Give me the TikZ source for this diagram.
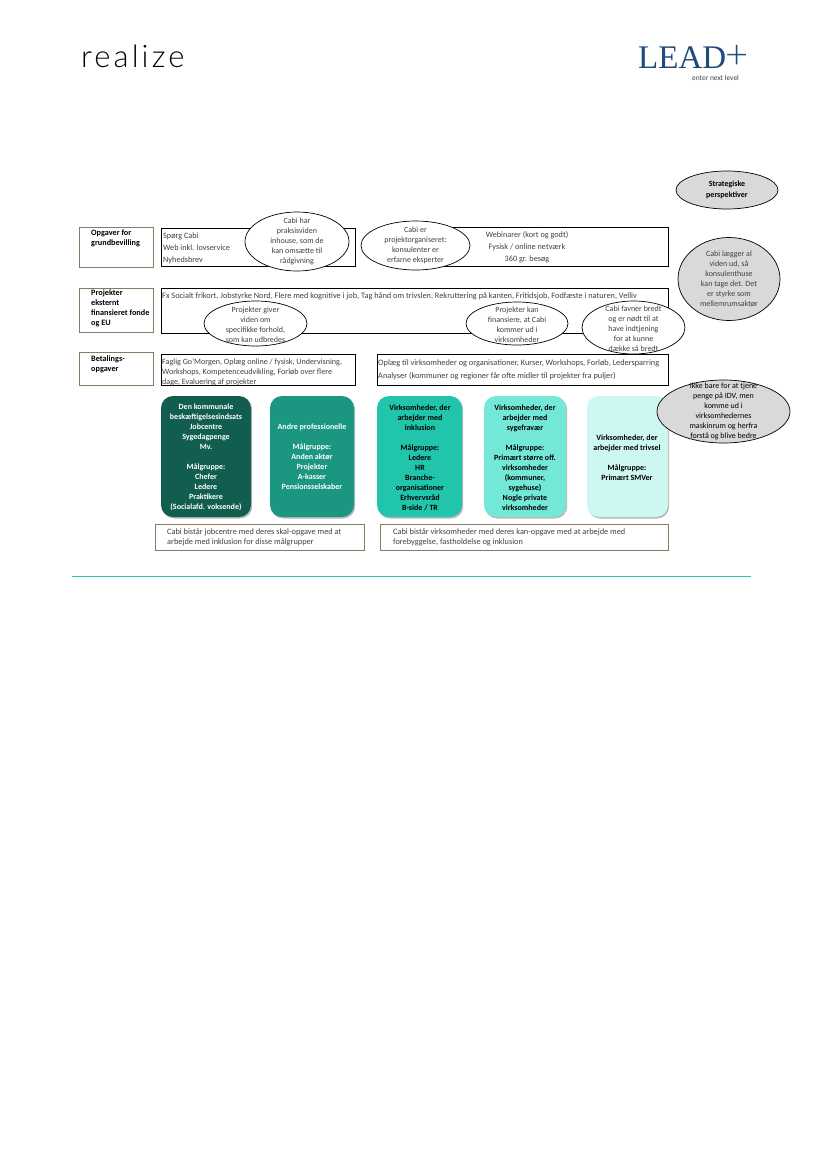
\documentclass[tikz,border=0pt]{standalone}
\usepackage{fontspec}
\setmainfont{Carlito}
\newfontfamily\logofont[LetterSpace=10]{Lato Light}
\newfontfamily\plusfont{Lato Light}
\newfontfamily\leadfont{Liberation Serif}
\usetikzlibrary{shapes.geometric,fit,shadows}
\definecolor{bodygray}{HTML}{404040}
\definecolor{tan}{HTML}{8A7A62}
\definecolor{tileA}{HTML}{115E51}
\definecolor{tileB}{HTML}{1B9681}
\definecolor{tileC}{HTML}{20C5AC}
\definecolor{tileD}{HTML}{73E8D6}
\definecolor{tileE}{HTML}{CDF7F1}
\definecolor{rulecol}{HTML}{1FC9AE}
\definecolor{leadblue}{HTML}{1F4A7D}
\tikzset{
  x=1bp,y=-1bp,
  txt/.style={inner sep=0pt,align=left,text=bodygray,font=\fontsize{8.2bp}{12bp}\selectfont},
  ctxt/.style={inner sep=0pt,align=center,text=bodygray,font=\fontsize{8bp}{10bp}\selectfont},
  lbltxt/.style={inner sep=0pt,align=left,text=black,font=\fontsize{8.2bp}{10bp}\selectfont\bfseries},
  tiletxt/.style={inner sep=0pt,align=center,font=\fontsize{8bp}{10bp}\selectfont\bfseries},
  fitbox/.style={inner sep=0pt,rectangle},
  bluebox/.style={fitbox,draw=black,line width=0.9bp,fill=white},
  labelbox/.style={fitbox,draw=tan,line width=0.9bp,fill=white},
  bub/.style 2 args={ellipse,inner sep=0pt,minimum width=#1bp,minimum height=#2bp,draw=black,line width=0.7bp,fill=white},
  graybub/.style 2 args={bub={#1}{#2},fill=black!15},
  tile/.style={fitbox,rounded corners=12bp,drop shadow={shadow xshift=1.2bp,shadow yshift=-1.5bp,fill=black!45,opacity=0.6}},
}
\begin{document}
\begin{tikzpicture}
\useasboundingbox (0,0) rectangle (826,1170);
\fill[white] (0,0) rectangle (826,1170);

% logos
\node[inner sep=0pt,anchor=base west] (realize) at (81,67) {\logofont\fontsize{31bp}{31bp}\selectfont realize};
\node[inner sep=0pt,anchor=base west,text=leadblue] (lead) at (638,68) {\leadfont\fontsize{33bp}{33bp}\selectfont LEAD};
\node[inner sep=0pt,anchor=center,text=leadblue] (plus) at (737,57) {\plusfont\fontsize{40bp}{40bp}\selectfont +};
\node[inner sep=0pt,anchor=base west,text=bodygray] (level) at (692,80) {\fontsize{7.4bp}{8bp}\selectfont enter next level};

% label boxes
\node[labelbox,fit={(79,227)(153,267)}] (l1) {};
\node[labelbox,fit={(79,288)(153,332)}] (l2) {};
\node[labelbox,fit={(79,352)(153,385)}] (l3) {};
\node[lbltxt,anchor=north west] (l1t) at (91,230) {Opgaver for\\grundbevilling};
\node[lbltxt,anchor=north west] (l2t) at (91,290) {Projekter\\eksternt\\finansieret fonde\\og EU};
\node[lbltxt,anchor=north west] (l3t) at (91,355.5) {Betalings-\\opgaver};

% content boxes
\node[bluebox,fit={(161,228)(355,266)}] (b1) {};
\node[bluebox,fit={(415,227)(668,266)}] (b2) {};
\node[bluebox,fit={(161,288)(668,333)}] (b3) {};
\node[bluebox,fit={(161,354)(355,385)}] (b4) {};
\node[bluebox,fit={(377,354)(668,385)}] (b5) {};
\node[txt,anchor=north west] (b1t) at (163,233) {Spørg Cabi\\Web inkl. lovservice\\Nyhedsbrev};
\node[txt,align=center,anchor=north] (b2t) at (527,231) {Webinarer (kort og godt)\\Fysisk / online netværk\\360 gr. besøg};
\node[txt,anchor=north west,font=\fontsize{8.3bp}{12bp}\selectfont] (b3t) at (162,292) {Fx Socialt frikort, Jobstyrke Nord, Flere med kognitive i job, Tag hånd om trivslen, Rekruttering på kanten, Fritidsjob, Fodfæste i naturen, Velliv};
\node[txt,anchor=north west,font=\fontsize{8.1bp}{10bp}\selectfont] (b4t) at (162,359) {Faglig Go’Morgen, Oplæg online / fysisk, Undervisning,\\Workshops, Kompetenceudvikling, Forløb over flere\\dage, Evaluering af projekter};
\node[txt,anchor=north west,font=\fontsize{8.3bp}{12.5bp}\selectfont] (b5t) at (378,360) {Oplæg til virksomheder og organisationer, Kurser, Workshops, Forløb, Ledersparring\\Analyser (kommuner og regioner får ofte midler til projekter fra puljer)};

% bubbles
\node[bub={104}{59}] (e1) at (297,241.5) {};
\node[bub={109}{49}] (e2) at (415.5,245.5) {};
\node[bub={103}{45}] (e3) at (255.5,323.5) {};
\node[bub={102}{43}] (e4) at (517,323.5) {};
\node[bub={103}{53}] (e5) at (633.5,327.5) {};
\node[graybub={102}{38}] (e6) at (727,190) {};
\node[graybub={102}{83}] (e7) at (729,279) {};
\node[ctxt] (e1t) at (e1.center) {Cabi har\\praksisviden\\inhouse, som de\\kan omsætte til\\rådgivning};
\node[ctxt] (e2t) at (e2.center) {Cabi er\\projektorganiseret:\\konsulenter er\\erfarne eksperter};
\node[ctxt,yshift=-1.5bp] (e3t) at (e3.center) {Projekter giver\\viden om\\specifikke forhold,\\som kan udbredes};
\node[ctxt,yshift=-1.5bp] (e4t) at (e4.center) {Projekter kan\\finansiere, at Cabi\\kommer ud i\\virksomheder};
\node[ctxt,yshift=-1.5bp] (e5t) at (e5.center) {Cabi favner bredt\\og er nødt til at\\have indtjening\\for at kunne\\dække så bredt};
\node[ctxt,text=black,font=\fontsize{8bp}{11bp}\selectfont\bfseries] (e6t) at (e6.center) {Strategiske\\perspektiver};
\node[ctxt] (e7t) at (e7.center) {Cabi lægger al\\viden ud, så\\konsulenthuse\\kan tage det. Det\\er styrke som\\mellemrumsaktør};

% tiles
\node[tile,fill=tileA,fit={(161,396)(251,517)}] (t1) {};
\node[tile,fill=tileB,fit={(270,396)(354,517)}] (t2) {};
\node[tile,fill=tileC,fit={(377,396)(462,517)}] (t3) {};
\node[tile,fill=tileD,fit={(484,396)(566,517)}] (t4) {};
\node[tile,fill=tileE,fit={(587,396)(668,517)}] (t5) {};
\node[graybub={133}{63}] (e8) at (723.5,411.5) {};
\node[ctxt,text=black] (e8t) at (e8.center) {Ikke bare for at tjene\\penge på IDV, men\\komme ud i\\virksomhedernes\\maskinrum og herfra\\forstå og blive bedre};
\node[tiletxt,text=white] (t1t) at (206,457.5) {Den kommunale\\beskæftigelsesindsats\\Jobcentre\\Sygedagpenge\\Mv.\\[10bp]Målgruppe:\\Chefer\\Ledere\\Praktikere\\(Socialafd. voksende)};
\node[tiletxt,text=white] (t2t) at (312,457) {Andre professionelle\\[10bp]Målgruppe:\\Anden aktør\\Projekter\\A-kasser\\Pensionsselskaber};
\node[tiletxt,text=black] (t3t) at (420,457.5) {Virksomheder, der\\arbejder med\\inklusion\\[10bp]Målgruppe:\\Ledere\\HR\\Branche-\\organisationer\\Erhvervsråd\\B-side / TR};
\node[tiletxt,text=black] (t4t) at (525,457.5) {Virksomheder, der\\arbejder med\\sygefravær\\[10bp]Målgruppe:\\Primært større off.\\virksomheder\\(kommuner,\\sygehuse)\\Nogle private\\virksomheder};
\node[tiletxt,text=black] (t5t) at (627,458) {Virksomheder, der\\arbejder med trivsel\\[10bp]Målgruppe:\\Primært SMVer};

% captions
\node[labelbox,fit={(155,524)(364,550)}] (c1) {};
\node[labelbox,fit={(380,524)(668,550)}] (c2) {};
\node[txt,anchor=west,font=\fontsize{8.3bp}{10bp}\selectfont] (c1t) at (167,537) {Cabi bistår jobcentre med deres skal-opgave med at\\arbejde med inklusion for disse målgrupper};
\node[txt,anchor=west,font=\fontsize{8.3bp}{10bp}\selectfont] (c2t) at (393,537) {Cabi bistår virksomheder med deres kan-opgave med at arbejde med\\forebyggelse, fastholdelse og inklusion};

% rule
\coordinate (ruleL) at (72,576);
\coordinate (ruleR) at (751,576);
\draw[rulecol,line width=0.9bp] (ruleL) -- (ruleR);
\end{tikzpicture}
\end{document}
